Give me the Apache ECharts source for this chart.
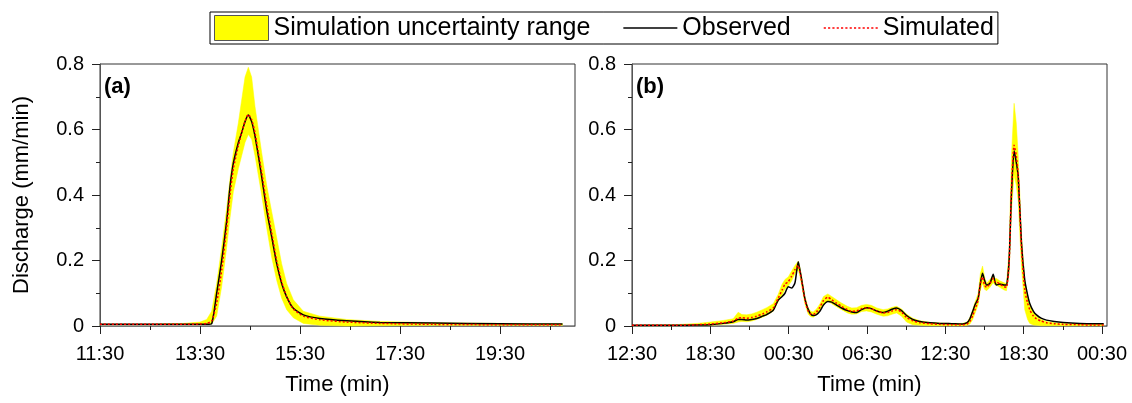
<!DOCTYPE html>
<html>
<head>
<meta charset="utf-8">
<script src="https://cdn.jsdelivr.net/npm/echarts@6/dist/echarts.min.js"></script>
<style>
  html, body { margin: 0; padding: 0; background: #fff; }
  #chart { width: 1132px; height: 403px; }
</style>
</head>
<body>
<div id="chart"></div>
<script>
// ---- data (minutes since the first tick of each panel) ----
// panel (a): 11:30 start
const tA   = [0, 60, 100, 120, 128, 134, 140, 146, 152, 156, 160, 166, 170, 174, 178, 182, 186, 190, 194, 200, 206, 212, 218, 224, 232, 244, 264, 296, 336, 400, 480, 555];
const obsA = [0.005, 0.005, 0.005, 0.005, 0.005, 0.007, 0.10, 0.20, 0.32, 0.425, 0.497, 0.560, 0.590, 0.624, 0.644, 0.624, 0.580, 0.520, 0.456, 0.354, 0.273, 0.191, 0.130, 0.089, 0.054, 0.034, 0.023, 0.016, 0.011, 0.009, 0.007, 0.006];
const simA = [0.005, 0.005, 0.005, 0.006, 0.008, 0.015, 0.07, 0.17, 0.30, 0.40, 0.48, 0.55, 0.59, 0.625, 0.646, 0.630, 0.590, 0.530, 0.470, 0.370, 0.285, 0.200, 0.135, 0.090, 0.052, 0.030, 0.019, 0.012, 0.008, 0.005, 0.004, 0.004];
const lowA = [0.004, 0.004, 0.004, 0.004, 0.005, 0.006, 0.03, 0.12, 0.24, 0.33, 0.41, 0.48, 0.52, 0.56, 0.585, 0.57, 0.52, 0.46, 0.40, 0.30, 0.21, 0.14, 0.085, 0.05, 0.025, 0.008, 0.002, 0.000, 0.001, 0.002, 0.002, 0.002];
const upA  = [0.006, 0.006, 0.008, 0.012, 0.020, 0.045, 0.13, 0.24, 0.36, 0.45, 0.53, 0.62, 0.69, 0.76, 0.79, 0.76, 0.67, 0.60, 0.53, 0.43, 0.35, 0.27, 0.19, 0.13, 0.08, 0.045, 0.030, 0.020, 0.014, 0.010, 0.008, 0.007];

// panel (b): 12:30 start
const tB   = [0, 200, 300, 360, 420, 465, 488, 505, 527, 550, 573, 600, 619, 649, 672, 690, 703, 718, 734, 749, 764, 772, 780, 795, 810, 822, 833, 848, 864, 880, 900, 918, 940, 963, 990, 1010, 1032, 1055, 1078, 1100, 1125, 1154, 1175, 1195, 1216, 1239, 1262, 1290, 1323, 1370, 1415, 1470, 1520, 1540, 1553, 1566, 1576, 1591, 1601, 1611, 1620, 1630, 1645, 1660, 1668, 1675, 1690, 1710, 1721, 1733, 1744, 1756, 1766, 1775, 1790, 1805, 1818, 1828, 1845, 1859, 1880, 1905, 1940, 1981, 2058, 2120, 2168];
const obsB = [0.002, 0.002, 0.003, 0.004, 0.008, 0.013, 0.020, 0.020, 0.018, 0.020, 0.023, 0.030, 0.035, 0.048, 0.079, 0.090, 0.100, 0.120, 0.116, 0.132, 0.196, 0.170, 0.140, 0.082, 0.050, 0.036, 0.032, 0.035, 0.046, 0.064, 0.075, 0.073, 0.064, 0.055, 0.047, 0.043, 0.041, 0.050, 0.056, 0.053, 0.046, 0.041, 0.045, 0.051, 0.055, 0.047, 0.032, 0.020, 0.014, 0.010, 0.008, 0.007, 0.006, 0.010, 0.022, 0.045, 0.064, 0.085, 0.130, 0.161, 0.140, 0.125, 0.130, 0.158, 0.135, 0.125, 0.128, 0.125, 0.125, 0.200, 0.405, 0.535, 0.500, 0.456, 0.252, 0.140, 0.095, 0.069, 0.045, 0.034, 0.024, 0.018, 0.014, 0.011, 0.008, 0.007, 0.007];
const simB = [0.002, 0.002, 0.004, 0.006, 0.010, 0.015, 0.024, 0.025, 0.024, 0.026, 0.030, 0.037, 0.043, 0.055, 0.085, 0.110, 0.128, 0.135, 0.152, 0.172, 0.185, 0.165, 0.135, 0.078, 0.045, 0.036, 0.035, 0.043, 0.058, 0.078, 0.088, 0.080, 0.070, 0.060, 0.050, 0.045, 0.046, 0.053, 0.056, 0.053, 0.045, 0.040, 0.041, 0.046, 0.050, 0.042, 0.026, 0.016, 0.010, 0.007, 0.005, 0.004, 0.004, 0.006, 0.014, 0.032, 0.050, 0.080, 0.130, 0.150, 0.125, 0.118, 0.130, 0.145, 0.135, 0.135, 0.128, 0.120, 0.118, 0.190, 0.420, 0.552, 0.520, 0.460, 0.240, 0.110, 0.070, 0.050, 0.030, 0.022, 0.015, 0.010, 0.007, 0.005, 0.004, 0.003, 0.003];
const lowB = [0.001, 0.001, 0.002, 0.002, 0.005, 0.008, 0.012, 0.014, 0.013, 0.015, 0.020, 0.027, 0.033, 0.045, 0.075, 0.095, 0.112, 0.122, 0.138, 0.160, 0.172, 0.152, 0.122, 0.066, 0.036, 0.028, 0.027, 0.034, 0.048, 0.066, 0.076, 0.068, 0.059, 0.050, 0.040, 0.036, 0.037, 0.044, 0.046, 0.043, 0.036, 0.030, 0.031, 0.036, 0.040, 0.030, 0.012, 0.004, 0.002, 0.001, 0.001, 0.001, 0.001, 0.002, 0.006, 0.020, 0.038, 0.065, 0.110, 0.130, 0.112, 0.108, 0.118, 0.132, 0.125, 0.125, 0.118, 0.110, 0.108, 0.160, 0.350, 0.460, 0.430, 0.380, 0.180, 0.050, 0.020, 0.008, 0.003, 0.002, 0.001, 0.001, 0.001, 0.001, 0.001, 0.001, 0.001];
const upB  = [0.003, 0.004, 0.008, 0.012, 0.017, 0.022, 0.042, 0.035, 0.034, 0.037, 0.042, 0.050, 0.056, 0.068, 0.097, 0.128, 0.142, 0.150, 0.168, 0.185, 0.198, 0.178, 0.150, 0.090, 0.055, 0.044, 0.043, 0.052, 0.068, 0.090, 0.098, 0.090, 0.080, 0.070, 0.060, 0.055, 0.056, 0.063, 0.066, 0.063, 0.055, 0.050, 0.052, 0.057, 0.060, 0.052, 0.036, 0.024, 0.016, 0.011, 0.009, 0.008, 0.008, 0.012, 0.026, 0.050, 0.072, 0.100, 0.160, 0.183, 0.150, 0.130, 0.142, 0.155, 0.145, 0.145, 0.138, 0.132, 0.130, 0.230, 0.520, 0.680, 0.620, 0.520, 0.280, 0.140, 0.090, 0.068, 0.042, 0.030, 0.020, 0.014, 0.010, 0.008, 0.006, 0.005, 0.005];

// tick labels
const ticksA  = [0, 120, 240, 360, 480];
const labelsA = ["11:30", "13:30", "15:30", "17:30", "19:30"];
const ticksB  = [0, 360, 720, 1080, 1440, 1800, 2160];
const labelsB = ["12:30", "18:30", "00:30", "06:30", "12:30", "18:30", "00:30"];

const FONT = "'Liberation Sans', Arial, sans-serif";
const YELLOW = "#ffff00";
const RED = "#ff0000";

// legend swatches: a plain stroke and a dotted one (as filled paths)
const ICON_SOLID = "path://M0,0h54v1.6h-54z";
let dots = "";
for (let x = 0; x < 52; x += 4) dots += `M${x},0h2v1.6h-2z`;
const ICON_DOTTED = "path://" + dots;

function pairs(t, v) { return t.map((x, i) => [x, v[i]]); }

function xAxis(gridIndex, max, ticks, labels, interval) {
  return {
    type: "value", gridIndex, min: 0, max, interval,
    name: "Time (min)", nameLocation: "middle", nameGap: 48,
    nameTextStyle: { fontFamily: FONT, fontSize: 22, color: "#000" },
    axisLine: { show: true, onZero: false, lineStyle: { color: "#777", width: 1 } },
    axisTick: { show: true, length: 8, customValues: ticks, lineStyle: { color: "#222" } },
    minorTick: { show: true, splitNumber: 2, length: 4, lineStyle: { color: "#222" } },
    axisLabel: {
      customValues: ticks, margin: 18, fontFamily: FONT, fontSize: 20, color: "#000",
      formatter: (v) => labels[ticks.indexOf(v)] ?? ""
    },
    splitLine: { show: false }
  };
}

function yAxis(gridIndex, withName) {
  return {
    type: "value", gridIndex, min: 0, max: 0.8, interval: 0.2,
    name: withName ? "Discharge (mm/min)" : "", nameLocation: "middle", nameGap: 67,
    nameTextStyle: { fontFamily: FONT, fontSize: 22, color: "#000" },
    axisLine: { show: true, lineStyle: { color: "#555", width: 1 } },
    axisTick: { show: true, length: 8, lineStyle: { color: "#222" } },
    minorTick: { show: true, splitNumber: 2, length: 4, lineStyle: { color: "#222" } },
    axisLabel: {
      margin: 16, fontFamily: FONT, fontSize: 20, color: "#000",
      formatter: (v) => (v === 0 ? "0" : v.toFixed(1))
    },
    splitLine: { show: false }
  };
}

function panelSeries(idx, t, obs, sim, lo, hi) {
  const common = { xAxisIndex: idx, yAxisIndex: idx, silent: true };
  return [
    // uncertainty band: one polygon, upper edge forward, lower edge back
    Object.assign({}, common, {
      type: "custom",
      name: "Simulation uncertainty range",
      itemStyle: { color: YELLOW },
      data: [[t[0], lo[0]]],
      renderItem: (params, api) => {
        const top = t.map((x, i) => api.coord([x, hi[i]]));
        const bot = t.map((x, i) => api.coord([x, lo[i]])).reverse();
        return {
          type: "polygon",
          shape: { points: top.concat(bot) },
          style: { fill: YELLOW, stroke: YELLOW, lineWidth: 0.5 }
        };
      }
    }),
    Object.assign({}, common, {
      type: "line", symbol: "none", smooth: 0.2,
      name: "Observed", data: pairs(t, obs),
      itemStyle: { color: "#000" },
      lineStyle: { color: "#000", width: 1.5 }
    }),
    Object.assign({}, common, {
      type: "line", symbol: "none", smooth: 0.2,
      name: "Simulated", data: pairs(t, sim),
      itemStyle: { color: RED },
      lineStyle: { color: RED, width: 1.5, type: [2, 2] }
    })
  ];
}

const chart = echarts.init(document.getElementById("chart"), null, { renderer: "canvas" });

chart.setOption({
  animation: false,
  backgroundColor: "#fff",
  grid: [
    { left: 100, top: 64, width: 475, height: 262, show: true, borderColor: "#333", borderWidth: 1 },
    { left: 632, top: 64, width: 475, height: 262, show: true, borderColor: "#333", borderWidth: 1 }
  ],
  legend: {
    left: 210, top: 12,
    padding: [3, 4],
    itemGap: 33, itemWidth: 54, itemHeight: 25,
    borderColor: "#000", borderWidth: 1,
    textStyle: { fontFamily: FONT, fontSize: 25, color: "#000" },
    selectedMode: false,
    data: [
      { name: "Simulation uncertainty range", icon: "rect", itemStyle: { color: YELLOW, borderColor: "#555", borderWidth: 1 } },
      { name: "Observed", icon: ICON_SOLID, itemStyle: { color: "#000", borderWidth: 0 } },
      { name: "Simulated", icon: ICON_DOTTED, itemStyle: { color: RED, borderWidth: 0 } }
    ]
  },
  xAxis: [
    xAxis(0, 570, ticksA, labelsA, 120),
    xAxis(1, 2183, ticksB, labelsB, 360)
  ],
  yAxis: [yAxis(0, true), yAxis(1, false)],
  graphic: [
    { type: "text", left: 104, top: 76, style: { text: "(a)", fontFamily: FONT, fontSize: 22, fontWeight: "bold", fill: "#000" } },
    { type: "text", left: 636, top: 76, style: { text: "(b)", fontFamily: FONT, fontSize: 22, fontWeight: "bold", fill: "#000" } }
  ],
  series: [].concat(
    panelSeries(0, tA, obsA, simA, lowA, upA),
    panelSeries(1, tB, obsB, simB, lowB, upB)
  )
});
</script>
</body>
</html>
